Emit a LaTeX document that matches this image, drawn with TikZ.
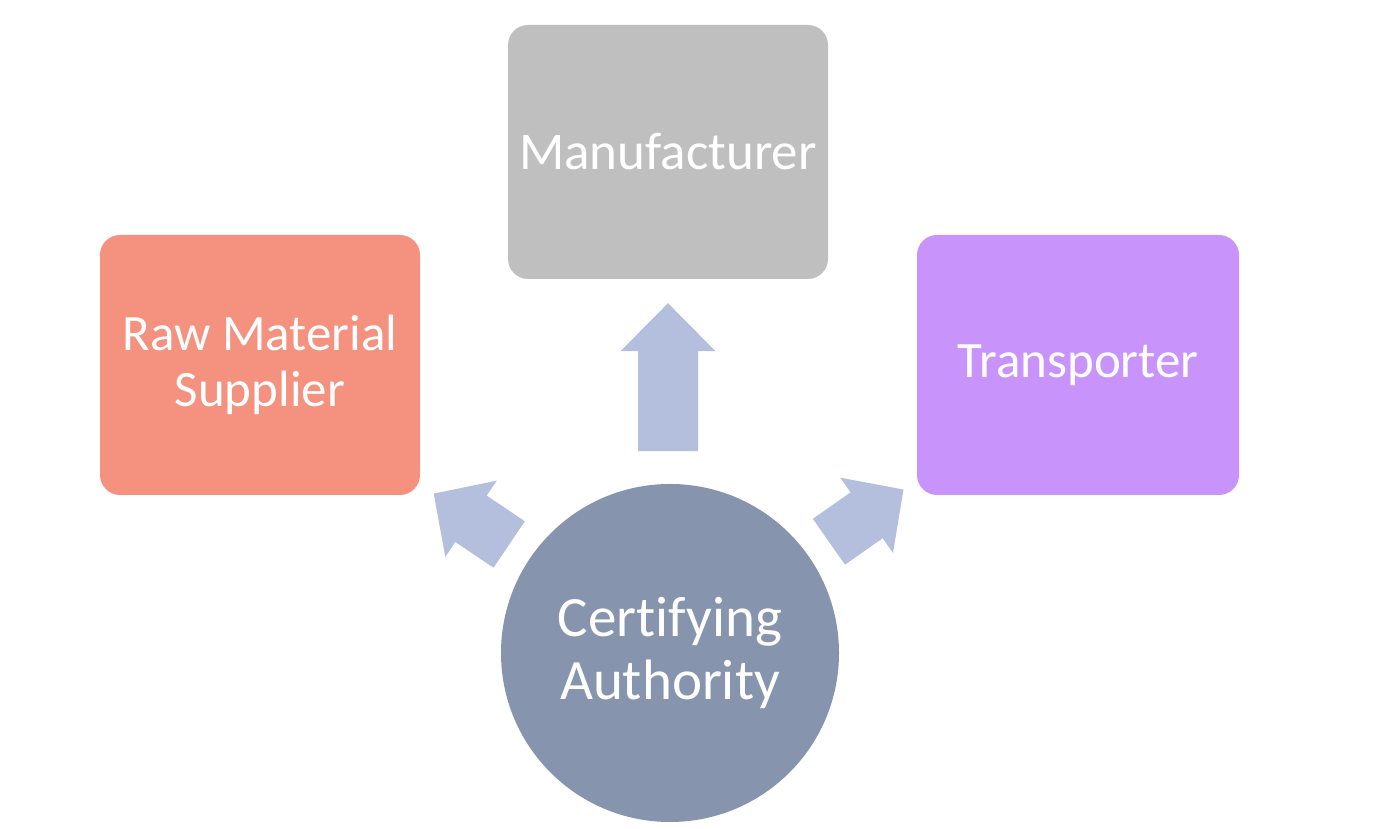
\documentclass[tikz,border=0pt]{standalone}
\usepackage{fontspec}
\setmainfont{Carlito}[Ligatures={NoCommon}]
\usetikzlibrary{calc}
\definecolor{rawcol}{HTML}{F4917F}
\definecolor{mancol}{HTML}{BFBFBF}
\definecolor{trancol}{HTML}{C894FC}
\definecolor{certcol}{HTML}{8694AE}
\definecolor{arrowcol}{HTML}{B4BEDD}
\tikzset{
  boxnode/.style={rectangle, rounded corners=20pt, inner sep=0pt, align=center, text=white,
    font=\fontsize{51}{56}\selectfont},
  circnode/.style={circle, fill=certcol, minimum size=338pt, inner sep=0pt, align=center, text=white,
    font=\fontsize{57}{63}\selectfont},
  pics/blockarrow/.style n args={4}{code={
    \fill[arrowcol] (0,-#3) -- ({#1-#2},-#3) -- ({#1-#2},-#4) -- (#1,0) -- ({#1-#2},#4) -- ({#1-#2},#3) -- (0,#3) -- cycle;
  }}
}
\begin{document}
\begin{tikzpicture}[x=1pt,y=1pt]
\useasboundingbox (0,0) rectangle (1400,829);
\node[boxnode, fill=rawcol, minimum width=320pt, minimum height=260pt] (raw) at (260,464) {Raw Material\\Supplier};
\node[boxnode, fill=mancol, minimum width=320pt, minimum height=254pt, font=\fontsize{53}{58}\selectfont] (man) at (668,677) {Manufacturer};
\node[boxnode, fill=trancol, minimum width=322pt, minimum height=260pt] (tra) at (1078,464) {Transporter};
\node[circnode] (ca) at (670,176) {Certifying\\Authority};
\pic[rotate=146] at ($(ca.center)+(146:194)$) {blockarrow={91}{45}{28}{46}};
\pic[rotate=90] at ($(man.south)+(0,-172)$) {blockarrow={148}{48}{30}{47.5}};
\pic[rotate=35] at ($(ca.center)+(35:194)$) {blockarrow={91}{45}{28}{46}};
\end{tikzpicture}
\end{document}
